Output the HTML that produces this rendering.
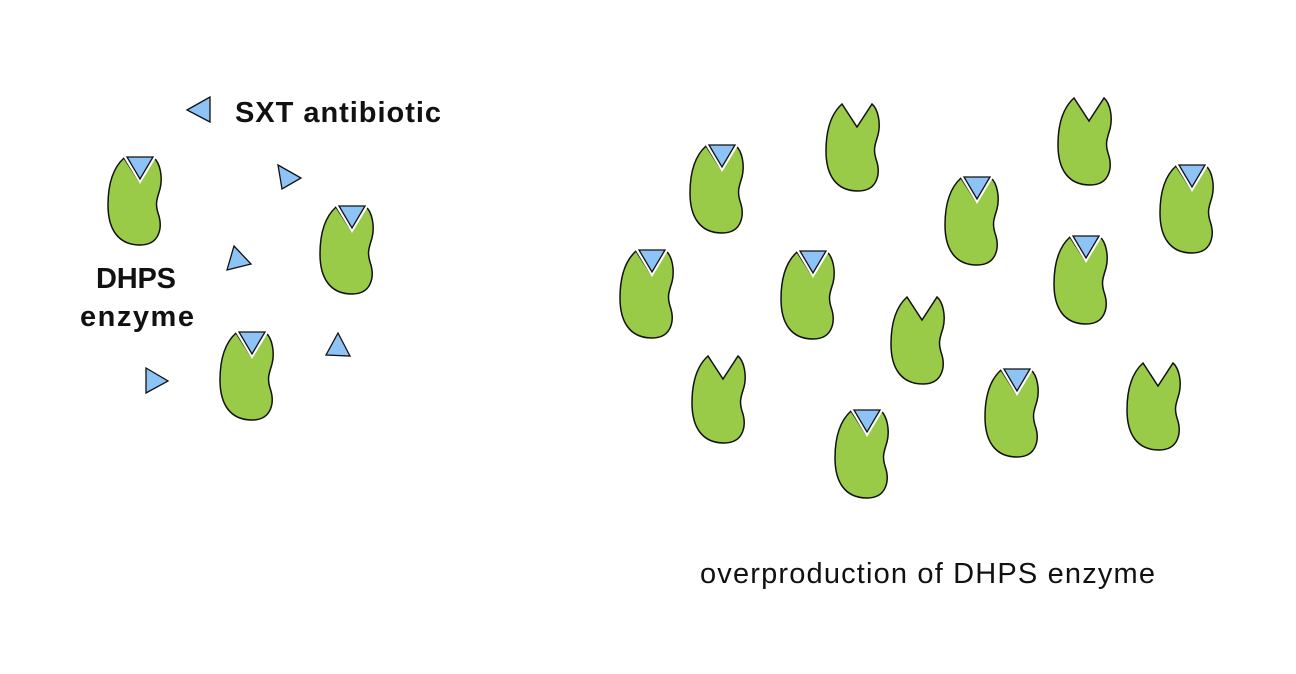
<!DOCTYPE html>
<html><head><meta charset="utf-8"><style>
html,body{margin:0;padding:0;background:#fff;}
svg{display:block;font-family:"Liberation Sans",sans-serif;}
</style></head><body>
<svg width="1296" height="674" viewBox="0 0 1296 674">
<defs>
<path id="enz" d="M16,1 L31,24 L46,1 C52,6 55,20 52,32 C49,42 47,46 50,56 C55,70 52,88 32,88 C10,88 0,72 0,48 C0,25 6,10 16,1 Z" fill="#9acb48" stroke="#111" stroke-width="1.5"/>
<g id="tri"><path d="M15,-1 L49,-1 L32,27 Z" fill="#fff"/><path d="M19,0 L45,0 L32,22 Z" fill="#8ec3f5" stroke="#111" stroke-width="1.3"/></g>
</defs>
<g id="enzymes"></g>
<g fill="#8ec3f5" stroke="#111" stroke-width="1.3">
<polygon points="187,110 210,97 210,122"/>
<polygon points="278,165 301,178 282,189"/>
<polygon points="234,246 251,264 227,270"/>
<polygon points="338,333 350,356 326,355"/>
<polygon points="146,368 168,381 146,393"/>
</g>
<text x="235" y="122" font-size="29" font-weight="bold" fill="#111" textLength="206" lengthAdjust="spacing">SXT antibiotic</text>
<text font-size="29" font-weight="bold" fill="#111"><tspan x="96" y="288" textLength="80" lengthAdjust="spacing">DHPS</tspan><tspan x="80" y="326" textLength="114" lengthAdjust="spacing">enzyme</tspan></text>
<text x="700" y="583" font-size="29" fill="#111" textLength="455" lengthAdjust="spacing">overproduction of DHPS enzyme</text>
</svg>
<script>
const enzX=[108,320,220,690,826,945,1058,1160,620,781,1054,891,692,1127,985,835];
const enzY=[157,206,332,145,103,177,97,165,250,251,236,296,355,362,369,410];
const bound=[1,1,1,1,0,1,0,1,1,1,1,0,0,0,1,1];
const g=document.getElementById('enzymes');
const NS='http://www.w3.org/2000/svg';
for(let i=0;i<enzX.length;i++){
  const e=document.createElementNS(NS,'g');
  e.setAttribute('transform','translate('+enzX[i]+','+enzY[i]+')');
  
  
  const u=document.createElementNS(NS,'use');u.setAttribute('href','#enz');e.appendChild(u);
  if(bound[i]){const t=document.createElementNS(NS,'use');t.setAttribute('href','#tri');e.appendChild(t);}
  g.appendChild(e);
}
</script>
</body></html>
